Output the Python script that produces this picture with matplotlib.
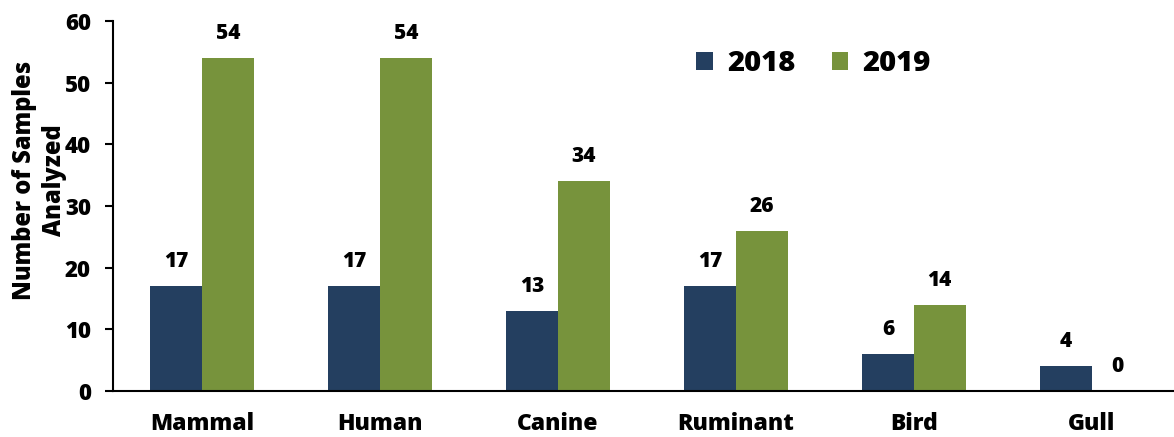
import matplotlib
matplotlib.use("Agg")
import matplotlib.pyplot as plt
import numpy as np

categories = ["Mammal", "Human", "Canine", "Ruminant", "Bird", "Gull"]
samples_2018 = [17, 17, 13, 17, 6, 4]
samples_2019 = [54, 54, 34, 26, 14, 0]

navy = "#243F60"
green = "#77933C"

plt.rcParams["font.family"] = ["Open Sans", "DejaVu Sans"]
plt.rcParams["font.weight"] = "heavy"

fig = plt.figure(figsize=(11.74, 4.37), dpi=100)
ax = fig.add_axes([0.0963, 0.1053, 0.9097, 0.8467])

x = np.arange(len(categories))
w = 0.29
b1 = ax.bar(x - w / 2, samples_2018, w, color=navy, label="2018")
b2 = ax.bar(x + w / 2, samples_2019, w, color=green, label="2019")

# value labels above each bar
for bars, vals in ((b1, samples_2018), (b2, samples_2019)):
    for rect, v in zip(bars, vals):
        ax.annotate(str(v), (rect.get_x() + rect.get_width() / 2, v),
                    xytext=(0, 10), textcoords="offset points",
                    ha="center", va="bottom", fontsize=15, fontweight="heavy")

ax.set_xlim(-0.5, 5.5)
ax.set_ylim(0, 60)
ax.set_yticks(range(0, 61, 10))
ax.set_xticks(x)
ax.set_xticklabels(categories, fontsize=16.5, fontweight="heavy")
ax.tick_params(axis="x", length=0, pad=15)
ax.tick_params(axis="y", labelsize=16, length=6, width=1.5, direction="out", pad=10)
for lbl in ax.get_yticklabels():
    lbl.set_fontweight("heavy")

ax.spines["top"].set_visible(False)
ax.spines["right"].set_visible(False)
ax.spines["left"].set_linewidth(1.5)
ax.spines["bottom"].set_linewidth(1.5)

ax.set_ylabel("Number of Samples\nAnalyzed", fontsize=17, fontweight="heavy",
              linespacing=1.25)
ax.yaxis.set_label_coords(-0.043, 0.57)

ax.legend(loc="upper center", bbox_to_anchor=(0.656, 0.995), ncol=2, frameon=False,
          prop={"size": 21, "weight": "heavy"}, handlelength=0.55, handleheight=0.55,
          columnspacing=1.25, handletextpad=0.5)

fig.savefig("out.png", dpi=100)
